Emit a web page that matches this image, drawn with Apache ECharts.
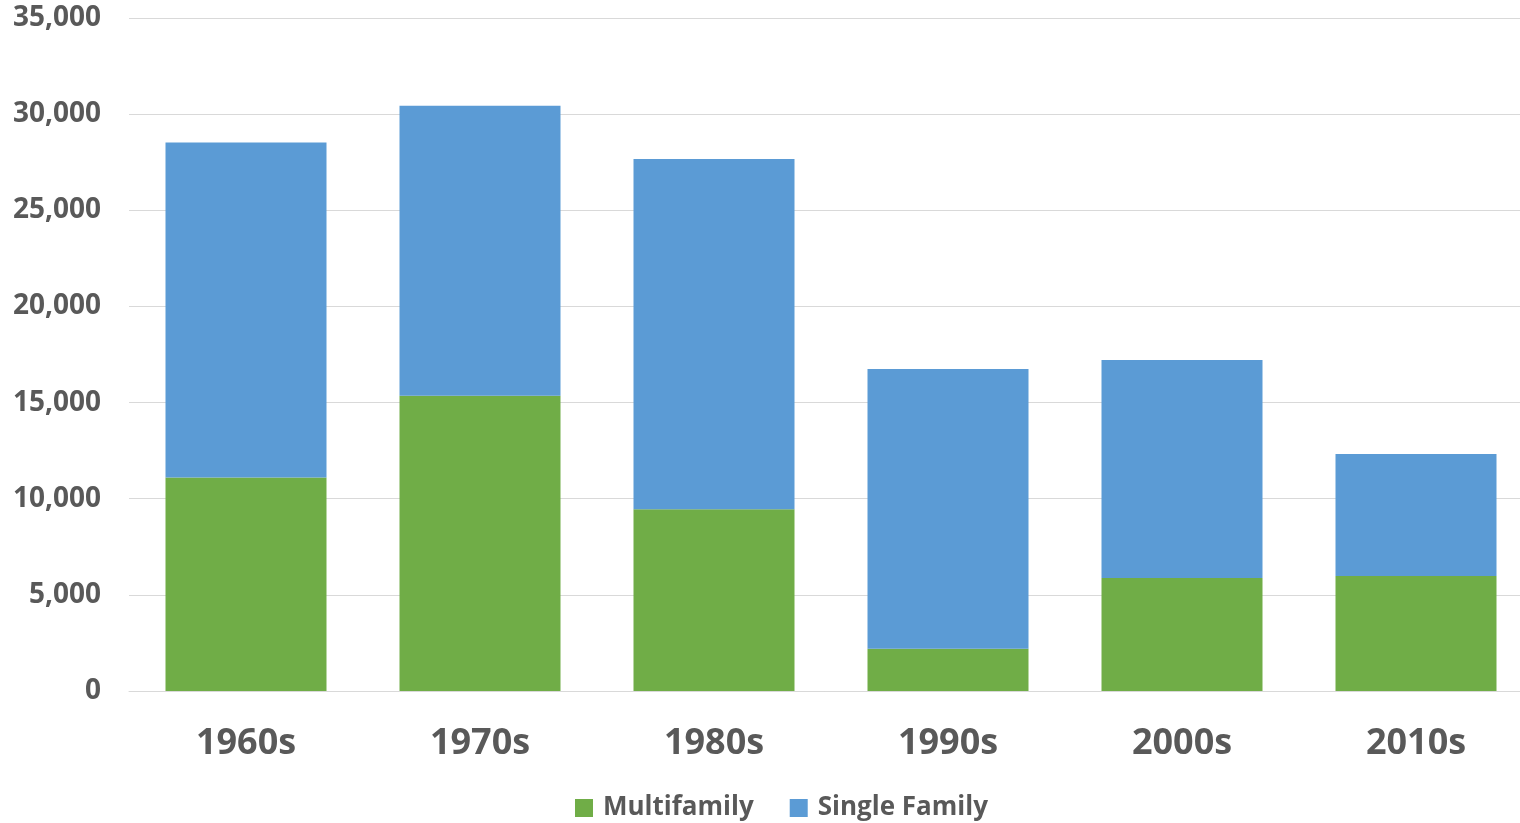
<!DOCTYPE html>
<html>
<head>
<meta charset="utf-8">
<script src="https://cdn.jsdelivr.net/npm/echarts@6/dist/echarts.min.js"></script>
<style>html,body{margin:0;padding:0;background:#fff}#c{width:1520px;height:823px}</style>
</head>
<body>
<div id="c"></div>
<script>
const categories = ['1960s', '1970s', '1980s', '1990s', '2000s', '2010s'];
const multifamily = [11100, 15350, 9450, 2200, 5880, 5980];
const singleFamily = [17420, 15080, 18220, 14550, 11330, 6340];
const yTicks = { min: 0, max: 35000, interval: 5000 };

const chart = echarts.init(document.getElementById('c'));
const txt = '#595959';
chart.setOption({
  animation: false,
  grid: { left: 129, right: -13, top: 18, bottom: 132, containLabel: false, outerBoundsMode: 'none' },
  legend: {
    bottom: -3, left: 570,
    itemWidth: 18, itemHeight: 18, itemGap: 36,
    icon: 'rect',
    textStyle: { color: txt, fontSize: 26, fontWeight: 'bold', fontFamily: 'Open Sans', padding: [0, 0, 0, 5] },
    data: ['Multifamily', 'Single Family']
  },
  xAxis: {
    type: 'category', data: categories,
    axisLine: { show: true, lineStyle: { color: '#D9D9D9', width: 1 } },
    axisTick: { show: false },
    axisLabel: { color: txt, fontSize: 36, fontWeight: 'bold', fontFamily: 'Open Sans', margin: 35 }
  },
  yAxis: {
    type: 'value', min: yTicks.min, max: yTicks.max, interval: yTicks.interval,
    axisLine: { show: false }, axisTick: { show: false },
    splitLine: { lineStyle: { color: '#D9D9D9', width: 1 } },
    axisLabel: {
      color: txt, fontSize: 28, fontWeight: 'bold', fontFamily: 'Open Sans', margin: 28,
      formatter: v => v.toLocaleString('en-US')
    }
  },
  series: [
    { name: 'Multifamily', type: 'bar', stack: 't', data: multifamily, barWidth: 161,
      itemStyle: { color: '#70AD47' } },
    { name: 'Single Family', type: 'bar', stack: 't', data: singleFamily, barWidth: 161,
      itemStyle: { color: '#5B9BD5' } }
  ]
});
</script>
</body>
</html>
